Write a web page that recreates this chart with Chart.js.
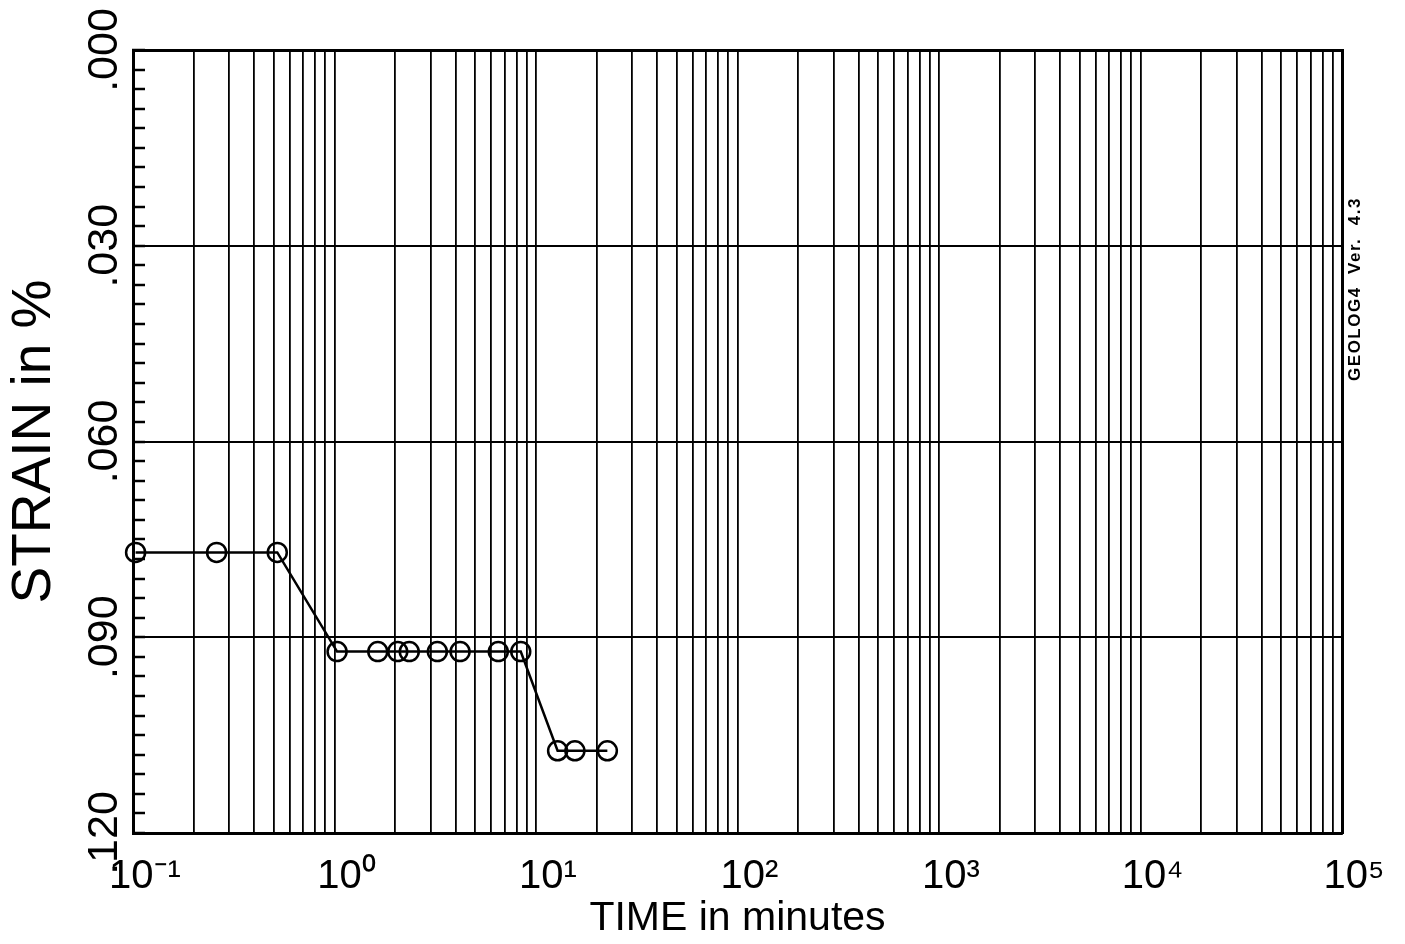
<!DOCTYPE html>
<html>
<head>
<meta charset="utf-8">
<script src="https://cdn.jsdelivr.net/npm/chart.js@4"></script>
<style>
  body { margin: 0; background: #fff; }
  canvas { display: block; }
</style>
</head>
<body>
<canvas id="strainChart" width="1405" height="944"></canvas>
<script>
// readings: elapsed time (minutes) and strain (%)
const timeMin = [0.103, 0.26, 0.52, 1.03, 1.64, 2.06, 2.35, 3.24, 4.2, 6.5, 8.4, 12.8, 15.6, 22.6];
const strainPct = [0.077, 0.077, 0.077, 0.0922, 0.0922, 0.0922, 0.0922, 0.0922, 0.0922, 0.0922, 0.0922, 0.1074, 0.1074, 0.1074];

// axis ticks
const xDecades = [0.1, 1, 10, 100, 1000, 10000, 100000];
const xDecadeLabels = ['10⁻¹', '10⁰', '10¹', '10²', '10³', '10⁴', '10⁵'];
const xMultipliers = [1, 2, 3, 4, 5, 6, 7, 8, 9];
const yMajorValues = [0, 0.03, 0.06, 0.09, 0.12];
const yMajorLabels = ['.000', '.030', '.060', '.090', '.120'];

const FONT = 'Liberation Sans, Arial, Helvetica, sans-serif';

// all log grid lines, one per multiplier inside each decade
const xGridValues = [];
xDecades.forEach((d, i) => {
  if (i === xDecades.length - 1) { xGridValues.push(d); return; }
  xMultipliers.forEach(m => xGridValues.push(m * d));
});

function majorIndex(v) {
  return yMajorValues.findIndex(m => Math.abs(v - m) < 1e-7);
}

const stamp = {
  id: 'stamp',
  afterDraw(chart) {
    const ctx = chart.ctx;
    ctx.save();
    ctx.translate(1355, 289);
    ctx.rotate(-Math.PI / 2);
    ctx.font = 'bold 17px ' + FONT;
    if ('letterSpacing' in ctx) ctx.letterSpacing = '1.5px';
    ctx.fillStyle = '#000';
    ctx.textAlign = 'center';
    ctx.textBaseline = 'middle';
    ctx.fillText('GEOLOG4  Ver.  4.3', 0, 0);
    ctx.restore();
  }
};

new Chart(document.getElementById('strainChart'), {
  type: 'line',
  data: {
    datasets: [{
      data: timeMin.map((t, i) => ({ x: t, y: strainPct[i] })),
      clip: false,
      borderColor: '#000',
      borderWidth: 2.5,
      pointStyle: 'circle',
      pointRadius: 9.5,
      pointBorderWidth: 2.5,
      pointBorderColor: '#000',
      pointBackgroundColor: 'rgba(0,0,0,0)',
      tension: 0
    }]
  },
  options: {
    responsive: false,
    animation: false,
    layout: { padding: { left: 0, top: 50, right: 63, bottom: 0 } },
    plugins: { legend: { display: false }, tooltip: { enabled: false } },
    scales: {
      x: {
        type: 'logarithmic',
        position: 'bottom',
        min: 0.1,
        max: 100000,
        afterBuildTicks: s => { s.ticks = xGridValues.map(v => ({ value: v })); },
        afterFit: s => { s.height = 111; s.paddingLeft = 0; s.paddingRight = 0; },
        ticks: {
          autoSkip: false,
          maxRotation: 0,
          minRotation: 0,
          padding: 20,
          labelOffset: 12,
          color: '#000',
          font: { family: FONT, size: 40 },
          callback: v => {
            const i = xDecades.findIndex(d => Math.abs(Math.log10(v) - Math.log10(d)) < 1e-9);
            return i >= 0 ? xDecadeLabels[i] : '';
          }
        },
        grid: { color: '#000', lineWidth: 1.8, drawTicks: false },
        border: { color: '#000', width: 3 },
        title: {
          display: true,
          text: 'TIME in minutes',
          color: '#000',
          font: { family: FONT, size: 41 },
          padding: { top: 0, bottom: 1 }
        }
      },
      x2: {
        type: 'logarithmic',
        position: 'top',
        min: 0.1,
        max: 100000,
        afterFit: s => { s.height = 0; },
        ticks: { display: false },
        grid: { drawOnChartArea: false, drawTicks: false },
        border: { color: '#000', width: 3 }
      },
      y: {
        position: 'left',
        reverse: true,
        min: 0,
        max: 0.12,
        afterFit: s => { s.width = 133; s.paddingTop = 0; s.paddingBottom = 0; },
        ticks: {
          stepSize: 0.003,
          autoSkip: false,
          minRotation: 90,
          maxRotation: 90,
          crossAlign: 'center',
          padding: -2,
          color: '#000',
          font: { family: FONT, size: 43 },
          callback: v => {
            const i = majorIndex(v);
            return i >= 0 ? yMajorLabels[i] : '';
          }
        },
        grid: {
          color: c => (c.tick && majorIndex(c.tick.value) >= 0 ? '#000' : 'rgba(0,0,0,0)'),
          lineWidth: 2,
          tickLength: -12,
          tickColor: '#000',
          tickWidth: 2.5
        },
        border: { color: '#000', width: 3 },
        title: {
          display: true,
          text: 'STRAIN in %',
          color: '#000',
          font: { family: FONT, size: 55 },
          padding: { top: 2, bottom: 0 }
        }
      },
      y2: {
        position: 'right',
        reverse: true,
        min: 0,
        max: 0.12,
        afterFit: s => { s.width = 0; },
        ticks: { display: false },
        grid: { drawOnChartArea: false, drawTicks: false },
        border: { color: '#000', width: 3 }
      }
    }
  },
  plugins: [stamp]
});
</script>
</body>
</html>
